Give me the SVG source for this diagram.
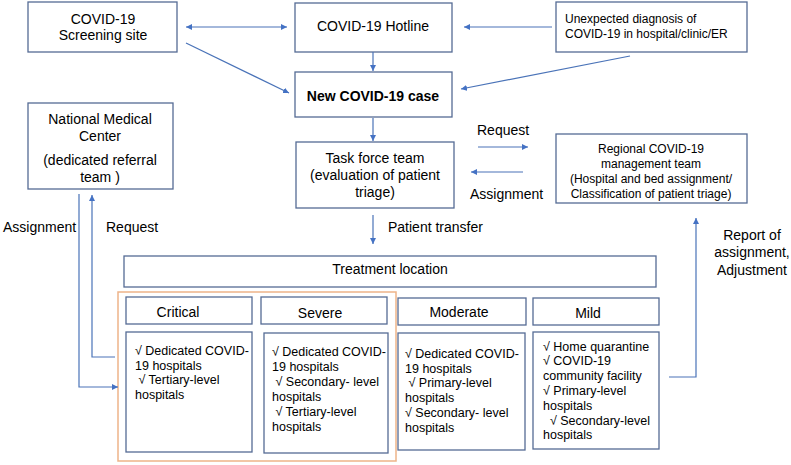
<svg xmlns="http://www.w3.org/2000/svg" width="791" height="465" viewBox="0 0 791 465">
<defs>
<marker id="ah" viewBox="0 0 10 10" refX="10" refY="5" markerWidth="6" markerHeight="6" markerUnits="userSpaceOnUse" orient="auto-start-reverse">
<path d="M0,0 L10,5 L0,10 z" fill="#4472C4"/>
</marker>
<style>
.box{fill:#fff;stroke:#556b94;stroke-width:1.3}
.t{font-family:"Liberation Sans",Arial,sans-serif;font-size:14px;fill:#000}
.s{font-family:"Liberation Sans",Arial,sans-serif;font-size:12px;fill:#000}
.b{font-family:"Liberation Sans",Arial,sans-serif;font-size:12.5px;fill:#000}
.c{text-anchor:middle}
.ln{fill:none;stroke:#4a73b8;stroke-width:1.2}
.ar{fill:none;stroke:#4a73b8;stroke-width:1.2;marker-end:url(#ah)}
</style>
</defs>
<rect width="791" height="465" fill="#fff"/>

<g id="orange-group"><rect x="118" y="292" width="278" height="169" fill="none" stroke="#eeb489" stroke-width="1.5"/></g>

<g id="screening"><rect class="box" x="28" y="2" width="149" height="50"/>
<text class="t c" x="103" y="24">COVID-19</text><text class="t c" x="103" y="40">Screening site</text></g>

<g id="hotline"><rect class="box" x="295" y="3" width="157" height="49"/>
<text class="t c" x="373" y="31">COVID-19 Hotline</text></g>

<g id="unexpected"><rect class="box" x="556" y="2" width="191" height="50"/>
<text class="s" x="565" y="23">Unexpected diagnosis of</text><text class="s" x="565" y="38">COVID-19 in hospital/clinic/ER</text></g>

<g id="newcase"><rect class="box" x="295" y="72" width="157" height="45"/>
<text class="t c" x="373" y="101" font-weight="bold">New COVID-19 case</text></g>

<g id="nmc"><rect class="box" x="28" y="103" width="145" height="86"/>
<text class="t c" x="100" y="124">National Medical</text><text class="t c" x="100" y="141">Center</text>
<text class="t c" x="100" y="165">(dedicated referral</text><text class="t c" x="100" y="182">team )</text></g>

<g id="taskforce"><rect class="box" x="296" y="142" width="158" height="66"/>
<text class="t c" x="375" y="163">Task force team</text><text class="t c" x="375" y="180">(evaluation of patient</text><text class="t c" x="375" y="197">triage)</text></g>

<g id="regional"><rect class="box" x="556" y="134" width="191" height="69"/>
<text class="s c" x="651" y="153">Regional COVID-19</text><text class="s c" x="651" y="168">management team</text>
<text class="s c" x="651" y="183">(Hospital and bed assignment/</text><text class="s c" x="651" y="198">Classification of patient triage)</text></g>

<g id="treatment"><rect class="box" x="124" y="256" width="532" height="31"/>
<text class="t c" x="390" y="274">Treatment location</text></g>

<g id="critical-h"><rect class="box" x="126" y="297" width="126" height="27"/><text class="t c" x="178" y="317">Critical</text></g>
<g id="severe-h"><rect class="box" x="261" y="297" width="126" height="27"/><text class="t c" x="320" y="318">Severe</text></g>
<g id="moderate-h"><rect class="box" x="398" y="298" width="128" height="27"/><text class="t c" x="459" y="317">Moderate</text></g>
<g id="mild-h"><rect class="box" x="533" y="298" width="126" height="27"/><text class="t c" x="588" y="318">Mild</text></g>

<g id="critical-b"><rect class="box" x="126" y="332" width="126" height="120"/>
<text class="b" x="135" y="355">√ Dedicated COVID-</text><text class="b" x="135" y="370">19 hospitals</text>
<text class="b" x="135" y="384" xml:space="preserve"> √ Tertiary-level</text><text class="b" x="135" y="399">hospitals</text></g>

<g id="severe-b"><rect class="box" x="264" y="333" width="124" height="120"/>
<text class="b" x="272" y="356">√ Dedicated COVID-</text><text class="b" x="272" y="371">19 hospitals</text>
<text class="b" x="272" y="386" xml:space="preserve"> √ Secondary- level</text><text class="b" x="272" y="401">hospitals</text>
<text class="b" x="272" y="416" xml:space="preserve"> √ Tertiary-level</text><text class="b" x="272" y="431">hospitals</text></g>

<g id="moderate-b"><rect class="box" x="398" y="333" width="127" height="117"/>
<text class="b" x="405" y="358">√ Dedicated COVID-</text><text class="b" x="405" y="373">19 hospitals</text>
<text class="b" x="405" y="387" xml:space="preserve"> √ Primary-level</text><text class="b" x="405" y="402">hospitals</text>
<text class="b" x="405" y="417">√ Secondary- level</text><text class="b" x="405" y="432">hospitals</text></g>

<g id="mild-b"><rect class="box" x="533" y="332" width="126" height="117"/>
<text class="b" x="543" y="351">√ Home quarantine</text><text class="b" x="543" y="365">√ COVID-19</text>
<text class="b" x="543" y="380">community facility</text><text class="b" x="543" y="395">√ Primary-level</text>
<text class="b" x="543" y="410">hospitals</text><text class="b" x="543" y="425" xml:space="preserve">  √ Secondary-level</text>
<text class="b" x="543" y="439">hospitals</text></g>

<g id="connectors">
<line class="ar" x1="186" y1="27" x2="287" y2="27" marker-start="url(#ah)"/>
<line class="ar" x1="552" y1="27" x2="464" y2="27"/>
<line class="ar" x1="373" y1="52" x2="373" y2="71"/>
<line class="ar" x1="186" y1="43" x2="289" y2="93"/>
<line class="ar" x1="630" y1="56" x2="461" y2="89"/>
<line class="ar" x1="373" y1="118" x2="373" y2="141"/>
<line class="ar" x1="478" y1="147" x2="528" y2="147"/>
<line class="ar" x1="523" y1="172" x2="471" y2="172"/>
<line class="ar" x1="373" y1="215" x2="373" y2="244"/>
<path class="ar" d="M79,194 V387 H118"/>
<path class="ar" d="M115,357 H92 V195"/>
<path class="ar" d="M669,377 H696 V218"/>
</g>

<g id="labels">
<text class="t" x="477" y="135">Request</text>
<text class="t" x="470" y="199">Assignment</text>
<text class="t" x="388" y="232">Patient transfer</text>
<text class="t" x="3" y="232">Assignment</text>
<text class="t" x="106" y="232">Request</text>
<text class="t c" x="752" y="240">Report of</text>
<text class="t c" x="752" y="257">assignment,</text>
<text class="t c" x="752" y="275">Adjustment</text>
</g>
</svg>
